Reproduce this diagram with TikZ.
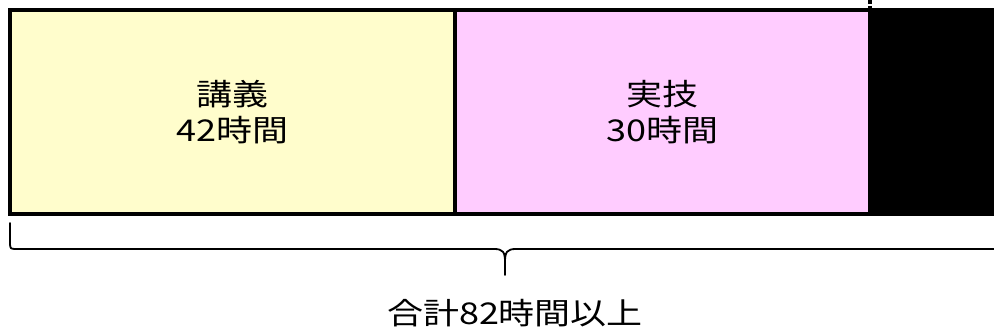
\documentclass[tikz,border=0pt]{standalone}
\usepackage{fontspec}
\newfontfamily\jp[FakeStretch=1.2]{Noto Sans CJK JP}
\definecolor{cyellow}{HTML}{FFFDCC}
\definecolor{cpink}{HTML}{FFCCFF}
\tikzset{
  cell/.style={draw=black, line width=4pt, inner sep=0pt, align=center,
    font=\jp\fontsize{30}{36}\selectfont},
  bracestyle/.style={draw=black, line width=1.8pt},
  label/.style={inner sep=0pt, font=\jp\fontsize{30}{36}\selectfont}
}
\begin{document}
\begin{tikzpicture}[x=1pt,y=-1pt]
\useasboundingbox (0,0) rectangle (994,334);
\clip (0,0) rectangle (994,334);
\fill[white] (0,0) rectangle (994,334);
\node[cell, fill=cyellow, minimum width=445.5pt, minimum height=204pt] (lec) at (232.25,112) {講義\\42時間};
\node[cell, fill=cpink, minimum width=415pt, minimum height=204pt] (prac) at (662.5,112) {実技\\30時間};
\node[cell, fill=black, minimum width=140pt, minimum height=204pt] (rest) at (940,112) {};
\coordinate (dtop) at (870,0);
\draw[line width=4pt, dash pattern=on 4pt off 2pt] (dtop) -- (870,10);
\draw[bracestyle, line cap=round] (10,223) -- (10,244) .. controls (10,248) and (11,249) .. (15,249) -- (494,249) .. controls (503,249) and (505,252) .. (505,262) -- (505,275);
\draw[bracestyle] (505,262) .. controls (505,252) and (507,249) .. (516,249) -- (1000,249);
\node[label] (total) at (515,313) {合計82時間以上};
\end{tikzpicture}
\end{document}
